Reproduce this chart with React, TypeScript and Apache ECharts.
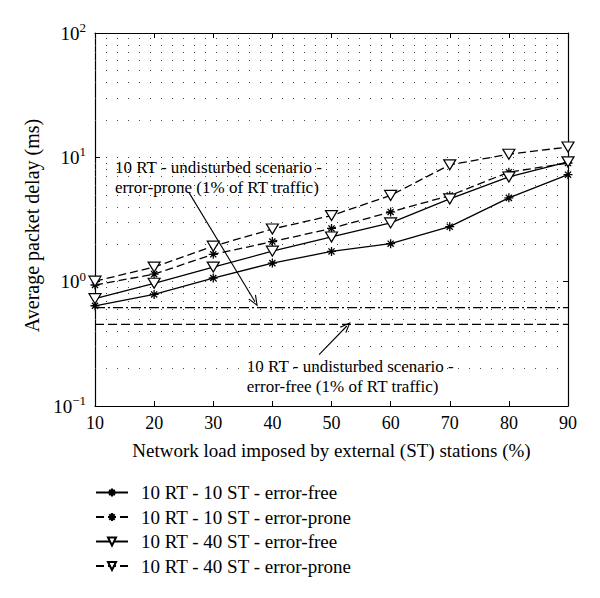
import React, { useEffect, useRef } from 'react';
import * as echarts from 'echarts';

// ---- data ----
const loads = [10, 20, 30, 40, 50, 60, 70, 80, 90];
const rt10st10Free = [0.64, 0.79, 1.07, 1.41, 1.75, 2.02, 2.77, 4.72, 7.25];
const rt10st10Prone = [0.94, 1.15, 1.66, 2.1, 2.68, 3.64, 4.92, 7.6, 9.0];
const rt10st40Free = [0.73, 0.97, 1.31, 1.76, 2.29, 2.97, 4.63, 6.95, 9.2];
const rt10st40Prone = [1.01, 1.31, 1.93, 2.65, 3.4, 4.94, 8.7, 10.6, 12.1];
const undisturbedProne = 0.618;
const undisturbedFree = 0.454;
const minorGridLevels = [0.2, 0.3, 0.4, 0.5, 0.6, 0.7, 0.8, 0.9, 2, 3, 4, 5, 6, 7, 8, 9, 20, 30, 40, 50, 60, 70, 80, 90];
const seriesNames = [
  '10 RT - 10 ST - error-free',
  '10 RT - 10 ST - error-prone',
  '10 RT - 40 ST - error-free',
  '10 RT - 40 ST - error-prone',
];
const noteProne = '10 RT - undisturbed scenario -\nerror-prone (1% of RT traffic)';
const noteFree = '10 RT - undisturbed scenario -\nerror-free (1% of RT traffic)';
const arrowProne = [[25.9, 5.2], [37.06, 0.69]];
const arrowFree = [[47.9, 0.259], [52.6, 0.44]];

const FONT = '"Liberation Serif", "DejaVu Serif", serif';
const STAR = 'path://M5 0 L5 10 M0 5 L10 5 M1.6 1.6 L8.4 8.4 M8.4 1.6 L1.6 8.4';
const VHEAD = 'path://M0 10 L5 0 L10 10 L8.6 10 L5 2.6 L1.4 10 Z';

function pairs(vals: number[]) {
  return loads.map((x, i) => [x, vals[i]]);
}

export default function App() {
  const ref = useRef<HTMLDivElement>(null);
  useEffect(() => {
    document.body.style.margin = '0';
    const chart = echarts.init(ref.current!, null, { renderer: 'svg' });
    const starSeries = (name: string, vals: number[], dashed: boolean) => ({
      name,
      type: 'line',
      data: pairs(vals),
      symbol: STAR,
      symbolSize: 9,
      z: 5,
      lineStyle: { color: '#000', width: 1.3, type: dashed ? [8, 4] : 'solid' },
      itemStyle: { color: '#000', borderColor: '#000', borderWidth: 1.3 },
    });
    const triSeries = (name: string, vals: number[], dashed: boolean) => ({
      name,
      type: 'line',
      data: pairs(vals),
      symbol: 'triangle',
      symbolRotate: 180,
      symbolSize: [12, 10],
      z: 6,
      lineStyle: { color: '#000', width: 1.3, type: dashed ? [8, 4] : 'solid' },
      itemStyle: { color: '#fff', borderColor: '#000', borderWidth: 1.2 },
    });
    const axisCommon = {
      axisLine: { show: true, lineStyle: { color: '#000', width: 1.2 } },
      axisTick: { show: true, inside: true, length: 5, lineStyle: { color: '#000' } },
    };
    chart.setOption({
      animation: false,
      grid: { left: 95, top: 33, width: 473, height: 373 },
      xAxis: [
        {
          type: 'value', min: 10, max: 90, interval: 10, position: 'bottom',
          ...axisCommon,
          splitLine: { show: false },
          axisLabel: { fontSize: 18, fontFamily: FONT, color: '#000', margin: 8 },
          name: 'Network load imposed by external (ST) stations (%)',
          nameLocation: 'middle', nameGap: 35,
          nameTextStyle: { fontSize: 19, fontFamily: FONT, color: '#000' },
        },
        {
          type: 'value', min: 10, max: 90, interval: 10, position: 'top',
          ...axisCommon, axisLabel: { show: false }, splitLine: { show: false },
        },
      ],
      yAxis: [
        {
          type: 'log', logBase: 10, min: 0.1, max: 100, position: 'left',
          ...axisCommon,
          splitLine: { show: true, lineStyle: { type: [1, 10], color: '#444', width: 1 } },
          axisLabel: {
            margin: 9,
            formatter: (v: number) => {
              const e = Math.round(Math.log10(v));
              return `{b|10}{s|${e < 0 ? '\u2212' + -e : e}}`;
            },
            rich: {
              b: { fontSize: 19, fontFamily: FONT, color: '#000' },
              s: { fontSize: 13, fontFamily: FONT, color: '#000', padding: [0, 0, 11, 0] },
            },
          },
          name: 'Average packet delay (ms)',
          nameLocation: 'middle', nameGap: 51,
          nameTextStyle: { fontSize: 20, fontFamily: FONT, color: '#000', padding: [0, 12, 0, 0] },
        },
        {
          type: 'log', logBase: 10, min: 0.1, max: 100, position: 'right',
          ...axisCommon, axisLabel: { show: false }, splitLine: { show: false },
        },
      ],
      legend: {
        data: seriesNames,
        orient: 'vertical', left: 95, top: 483, padding: 0,
        itemWidth: 32, itemHeight: 10, itemGap: 5.5,
        textStyle: { fontSize: 19, fontFamily: FONT, color: '#000', lineHeight: 19, padding: [0, 0, 0, 8] },
      },
      graphic: [
        { type: 'text', left: 115, top: 157, z: 20,
          style: { text: noteProne, font: `17px ${FONT}`, lineHeight: 20, fill: '#000', align: 'left' } },
        { type: 'text', right: 146, top: 356, z: 20,
          style: { text: noteFree, font: `17px ${FONT}`, lineHeight: 20, fill: '#000', align: 'right' } },
      ],
      series: [
        starSeries(seriesNames[0], rt10st10Free, false),
        starSeries(seriesNames[1], rt10st10Prone, true),
        triSeries(seriesNames[2], rt10st40Free, false),
        triSeries(seriesNames[3], rt10st40Prone, true),
        {
          type: 'line', data: [[10, undisturbedProne], [90, undisturbedProne]], symbol: 'none', z: 3,
          lineStyle: { color: '#000', width: 1.2, type: [10, 3, 2, 3] },
          markLine: {
            silent: true, symbol: ['none', 'none'], label: { show: false }, animation: false,
            lineStyle: { type: [1, 10], color: '#444', width: 1 },
            data: minorGridLevels.map((v) => ({ yAxis: v })),
          },
        },
        {
          type: 'line', data: [[10, undisturbedFree], [90, undisturbedFree]], symbol: 'none', z: 3,
          lineStyle: { color: '#000', width: 1.2, type: [9, 4] },
          markLine: {
            silent: true, symbol: ['none', VHEAD], symbolSize: [9, 11], label: { show: false }, animation: false,
            lineStyle: { type: 'solid', color: '#000', width: 1.1 },
            data: [
              [{ coord: arrowProne[0] }, { coord: arrowProne[1] }],
              [{ coord: arrowFree[0] }, { coord: arrowFree[1] }],
            ],
          },
        },
      ],
    });
    return () => chart.dispose();
  }, []);
  return <div ref={ref} style={{ width: 600, height: 598 }} />;
}
